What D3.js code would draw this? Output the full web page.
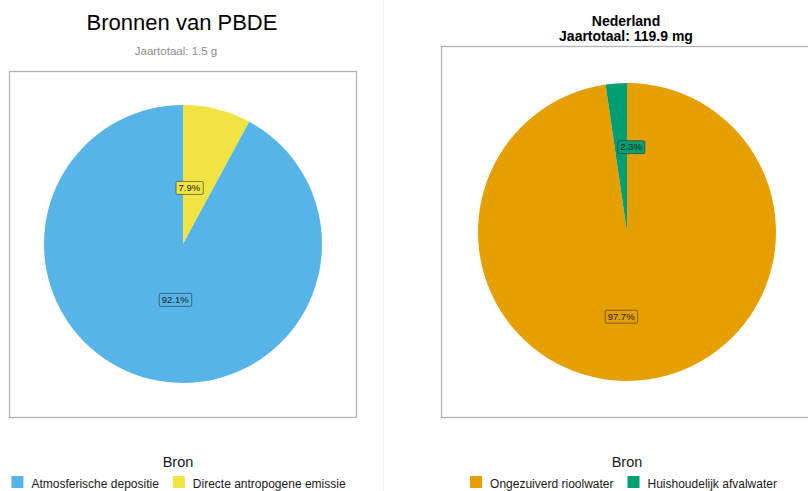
<!DOCTYPE html>
<html>
<head>
<meta charset="utf-8">
<script src="https://cdn.jsdelivr.net/npm/d3@7/dist/d3.min.js"></script>
<style>
  html, body { margin: 0; padding: 0; background: #ffffff; }
  svg { display: block; font-family: "Liberation Sans", Arial, sans-serif; }
</style>
</head>
<body>
<svg id="chart" width="808" height="491"></svg>
<script>
// Source categories and shares (%) for each pie
const regionalCategories = ["Atmosferische depositie", "Directe antropogene emissie"];
const regionalShares = [92.1, 7.9];
const regionalColors = ["#56B4E9", "#F0E442"];
const regionalTotal = "Jaartotaal: 1.5 g";

const nationalCategories = ["Ongezuiverd rioolwater", "Huishoudelijk afvalwater"];
const nationalShares = [97.7, 2.3];
const nationalColors = ["#E69F00", "#009E73"];
const nationalTotal = "Jaartotaal: 119.9 mg";

const svg = d3.select("#chart");

// faint divider between the two panels
svg.append("line")
  .attr("x1", 383.5).attr("x2", 383.5).attr("y1", 0).attr("y2", 491)
  .attr("stroke", "#f3f3f3").attr("stroke-width", 1);

function drawPanel(cfg) {
  const g = svg.append("g");

  // panel frame
  g.append("rect")
    .attr("x", cfg.box[0]).attr("y", cfg.box[1])
    .attr("width", cfg.box[2]).attr("height", cfg.box[3])
    .attr("fill", "none").attr("stroke", "#b3b3b3").attr("stroke-width", 1.3);

  const rows = cfg.categories.map((c, i) => ({ cat: c, value: cfg.values[i], color: cfg.colors[i], idx: i }));
  const ordered = cfg.drawOrder.map(i => rows[i]);

  const pie = d3.pie().sort(null).value(d => d.value)
    .startAngle(cfg.startTurn * 2 * Math.PI)
    .endAngle((cfg.startTurn + 1) * 2 * Math.PI);
  const arcs = pie(ordered);
  const arc = d3.arc().innerRadius(0).outerRadius(cfg.r);

  const pg = g.append("g").attr("transform", `translate(${cfg.cx},${cfg.cy})`);
  pg.selectAll("path.slice").data(arcs).join("path")
    .attr("class", "slice")
    .attr("d", arc)
    .attr("fill", d => d.data.color);

  // value labels
  const lab = pg.selectAll("g.lab").data(arcs).join("g").attr("class", "lab");
  lab.each(function (d) {
    const turn = cfg.labelTurn[d.data.idx];
    const a = turn * 2 * Math.PI;
    const rr = cfg.r * cfg.labelRadius;
    const x = Math.sin(a) * rr, y = -Math.cos(a) * rr;
    const sel = d3.select(this).attr("transform", `translate(${x},${y})`);
    const t = sel.append("text")
      .attr("text-anchor", "middle").attr("dy", "0.35em")
      .attr("font-size", 9.5).attr("fill", "#1a1a1a")
      .text(d3.format(".1f")(d.data.value) + "%");
    const bb = t.node().getBBox();
    sel.insert("rect", "text")
      .attr("x", bb.x - 2.5).attr("y", -6.5)
      .attr("width", bb.width + 5).attr("height", 13)
      .attr("rx", 1.5).attr("ry", 1.5)
      .attr("fill", d.data.color)
      .attr("stroke", "#333").attr("stroke-width", 0.6);
  });

  // titles
  cfg.titles.forEach(tl => {
    g.append("text").attr("x", tl.x).attr("y", tl.y)
      .attr("text-anchor", "middle")
      .attr("font-size", tl.size).attr("font-weight", tl.weight || "normal")
      .attr("fill", tl.color || "#000").text(tl.text);
  });

  // legend
  g.append("text").attr("x", cfg.legendTitleX).attr("y", 467)
    .attr("text-anchor", "middle").attr("font-size", 14.5).attr("fill", "#1a1a1a")
    .text("Bron");
  const lg = g.append("g");
  let x = 0;
  rows.forEach((d, i) => {
    const item = lg.append("g").attr("transform", `translate(${x},0)`);
    item.append("rect").attr("x", 0).attr("y", 476).attr("width", 12).attr("height", 12)
      .attr("fill", d.color);
    const t = item.append("text").attr("x", 20).attr("y", 487.5)
      .attr("font-size", 12).attr("fill", "#1a1a1a").text(d.cat);
    x += 20 + t.node().getComputedTextLength() + 14;
  });
  const w = x - 14;
  lg.attr("transform", `translate(${cfg.legendCenterX - w / 2},0)`);
}

drawPanel({
  categories: regionalCategories, values: regionalShares, colors: regionalColors,
  box: [9.5, 71.5, 347, 346], cx: 183, cy: 244, r: 139,
  drawOrder: [1, 0], startTurn: 0,
  labelTurn: [0.522, 0.018], labelRadius: 0.406,
  titles: [
    { text: "Bronnen van PBDE", x: 182, y: 30, size: 22 },
    { text: regionalTotal, x: 176, y: 55, size: 11.5, color: "#8c8c8c" }
  ],
  legendTitleX: 178, legendCenterX: 178.5
});

drawPanel({
  categories: nationalCategories, values: nationalShares, colors: nationalColors,
  box: [441.5, 46.5, 372, 371], cx: 627, cy: 232, r: 149,
  drawOrder: [0, 1], startTurn: 0,
  labelTurn: [0.511, 0.0075], labelRadius: 0.57,
  titles: [
    { text: "Nederland", x: 626, y: 26, size: 14, weight: "bold" },
    { text: nationalTotal, x: 626, y: 41, size: 14, weight: "bold" }
  ],
  legendTitleX: 627, legendCenterX: 623.5
});
</script>
</body>
</html>
